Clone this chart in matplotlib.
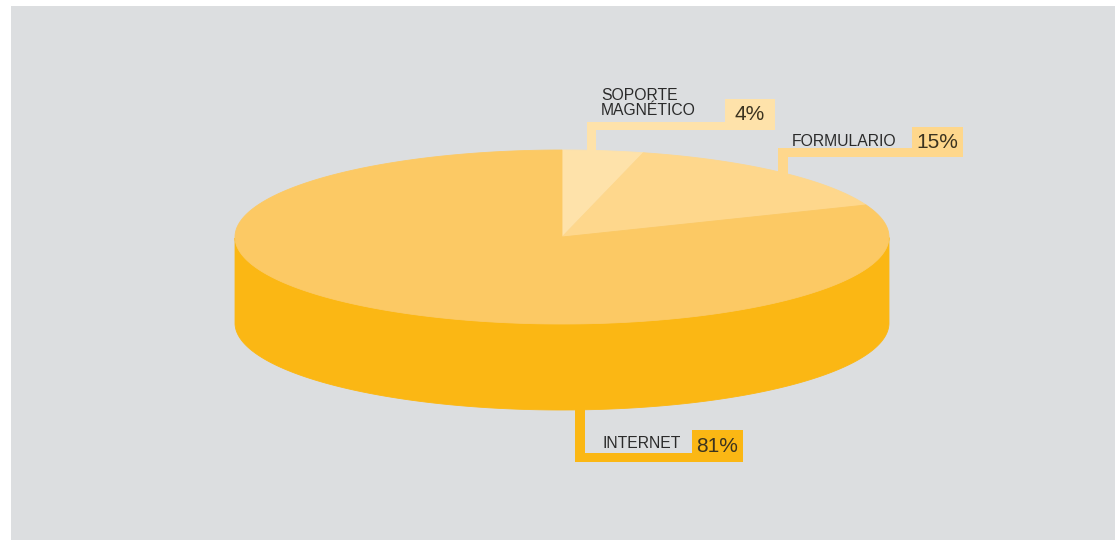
import numpy as np
import matplotlib.pyplot as plt
from matplotlib.patches import Polygon, Rectangle

# participación por canal de presentación
categorias = ['SOPORTE\nMAGNÉTICO', 'FORMULARIO', 'INTERNET']
valores = [4, 15, 81]
colores_tapa = ['#fee2aa', '#fed78c', '#fcc964']
colores_lado = ['#fcc75a', '#fcc048', '#fbb714']

FONDO = '#dcdee0'
FUENTE = ['Liberation Sans', 'DejaVu Sans']

W, H = 1115, 540
fig = plt.figure(figsize=(W / 100, H / 100), dpi=100)
fig.patch.set_facecolor('white')
ax = fig.add_axes([0, 0, 1, 1])
ax.set_xlim(0, W)
ax.set_ylim(H, 0)
ax.axis('off')

ax.add_patch(Rectangle((11, 6), W - 11, H - 6, facecolor=FONDO, edgecolor='none', zorder=0))

# geometria del pastel (coordenadas en pixeles)
cx, cy = 562, 237
a, b = 327, 87
prof = 86


def punto(t):
    return cx + a * np.cos(t), cy - b * np.sin(t)


# angulos de cada porcion, empezando arriba y en sentido horario
total = float(sum(valores))
limites = [np.pi / 2]
for v in valores:
    limites.append(limites[-1] - 2 * np.pi * v / total)

# lateral: solo la mitad frontal (sin(t) < 0) es visible
for i in range(len(valores)):
    t0, t1 = limites[i], limites[i + 1]
    ts = np.linspace(t1, t0, 400)
    ts = np.mod(ts + np.pi, 2 * np.pi) - np.pi
    ts = np.sort(ts[np.sin(ts) <= 0])
    if len(ts) < 2:
        continue
    arriba = [punto(t) for t in ts]
    abajo = [(x, y + prof) for x, y in arriba[::-1]]
    ax.add_patch(Polygon(arriba + abajo, closed=True, facecolor=colores_lado[i],
                         edgecolor=colores_lado[i], linewidth=0.6, zorder=3))

# tapa
for i in range(len(valores)):
    ts = np.linspace(limites[i], limites[i + 1], 300)
    pts = [(cx, cy)] + [punto(t) for t in ts]
    ax.add_patch(Polygon(pts, closed=True, facecolor=colores_tapa[i],
                         edgecolor=colores_tapa[i], linewidth=0.6, zorder=4))


def caja(x0, y0, x1, y1, color, z=2):
    ax.add_patch(Rectangle((x0, y0), x1 - x0, y1 - y0, facecolor=color,
                           edgecolor='none', zorder=z))


# lineas guia y etiquetas
guias = [
    dict(v=(587, 122, 596, 160), h=(587, 122, 775, 130), box=(725, 99, 775, 130),
         txt=(601, 103), pct=(750, 115)),
    dict(v=(778, 148, 788, 180), h=(778, 148, 963, 157), box=(912, 127, 963, 157),
         txt=(792, 142), pct=(937, 142)),
    dict(v=(575, 395, 585, 462), h=(575, 453, 743, 462), box=(692, 430, 743, 462),
         txt=(603, 444), pct=(717, 446)),
]

for i, g in enumerate(guias):
    col = colores_tapa[i] if i < 2 else colores_lado[i]
    caja(*g['v'], col)
    caja(*g['h'], col, z=5)
    caja(*g['box'], col, z=5)
    ax.text(g['txt'][0], g['txt'][1], categorias[i], ha='left', va='center',
            fontsize=11.3, family=FUENTE, color='#2a2a2a', linespacing=1.05, zorder=6)
    ax.text(g['pct'][0], g['pct'][1], f'{valores[i]}%', ha='center', va='center',
            fontsize=15, family=FUENTE, color='#3b3320', zorder=6)

fig.savefig('out.png', dpi=100, facecolor=fig.get_facecolor())
